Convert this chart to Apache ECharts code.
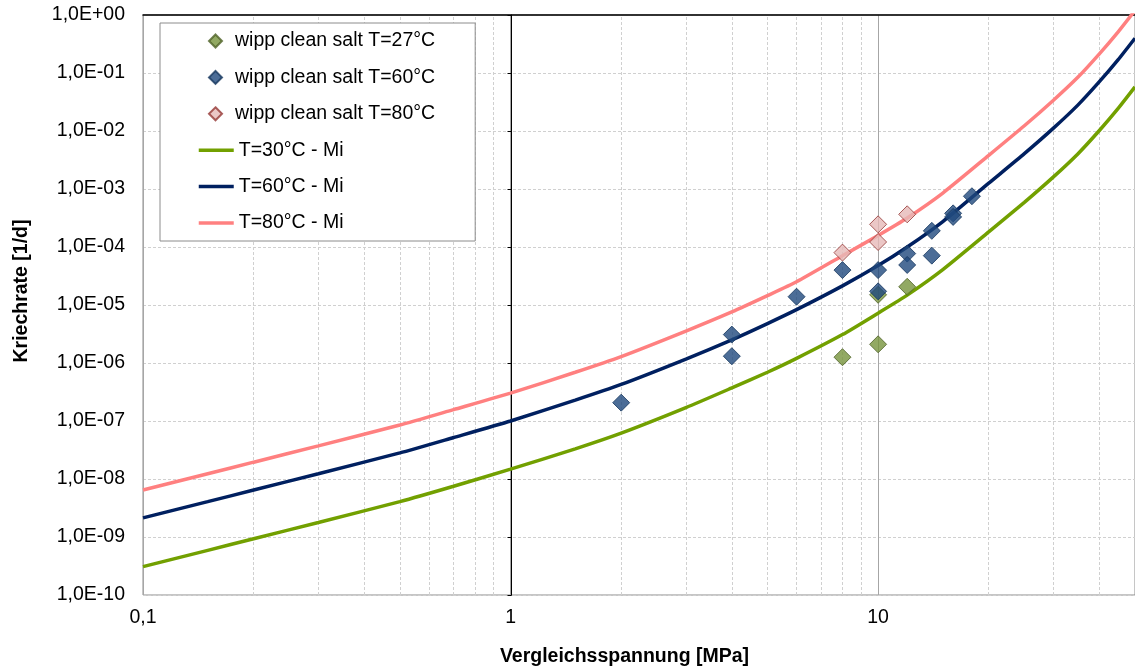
<!DOCTYPE html>
<html>
<head>
<meta charset="utf-8">
<script src="https://cdn.jsdelivr.net/npm/echarts@6/dist/echarts.min.js"></script>
<style>
html,body{margin:0;padding:0;background:#fff;}
#chart{width:1135px;height:672px;}
</style>
</head>
<body>
<div id="chart"></div>
<script>
// ---- data ----
const stressGrid = [0.1, 0.15, 0.2, 0.3, 0.5, 0.7, 1, 1.5, 2, 3, 4, 5, 6, 8, 10, 12, 15, 20, 25, 30, 35, 40, 45, 50];
const rateMi30 = [3.09e-10, 5.89e-10, 9.33e-10, 1.78e-9, 4.07e-9, 7.50e-9, 1.48e-8, 3.31e-8, 6.17e-8, 1.70e-7, 3.72e-7, 6.92e-7, 1.20e-6, 3.09e-6, 7.24e-6, 1.48e-5, 4.07e-5, 1.82e-4, 5.89e-4, 1.62e-3, 4.07e-3, 1.02e-2, 2.45e-2, 5.75e-2];
const rateMi60 = [2.14e-9, 4.07e-9, 6.46e-9, 1.23e-8, 2.82e-8, 5.19e-8, 1.00e-7, 2.29e-7, 4.27e-7, 1.17e-6, 2.51e-6, 4.79e-6, 8.32e-6, 2.14e-5, 4.79e-5, 1.00e-4, 2.75e-4, 1.26e-3, 4.07e-3, 1.12e-2, 2.82e-2, 7.08e-2, 0.170, 0.398];
const rateMi80 = [6.46e-9, 1.23e-8, 1.95e-8, 3.72e-8, 8.51e-8, 1.57e-7, 3.02e-7, 6.92e-7, 1.29e-6, 3.55e-6, 7.59e-6, 1.45e-5, 2.51e-5, 7.08e-5, 1.58e-4, 3.16e-4, 8.51e-4, 3.80e-3, 1.23e-2, 3.39e-2, 8.51e-2, 0.214, 0.513, 1.20];

const wipp27 = [[8, 1.26e-6], [10, 2.1e-6], [10, 1.5e-5], [12, 2.06e-5]];
const wipp60 = [[2, 2.07e-7], [4, 3.09e-6], [4, 1.31e-6], [6, 1.39e-5], [8, 4.0e-5], [10, 4.0e-5], [10, 1.72e-5],
                [12, 7.7e-5], [12, 4.9e-5], [14, 1.9e-4], [14, 7.1e-5], [16, 3.8e-4], [16, 3.3e-4], [18, 7.5e-4]];
const wipp80 = [[8, 8.0e-5], [10, 2.46e-4], [10, 1.22e-4], [12, 3.66e-4]];

const minorStressTicks = [0.2, 0.3, 0.4, 0.5, 0.6, 0.7, 0.8, 0.9, 2, 3, 4, 5, 6, 7, 8, 9, 20, 30, 40];
const xMin = 0.1, xMax = 50, yMin = 1e-10, yMax = 1;

const names = {
  s27: 'wipp clean salt T=27°C',
  s60: 'wipp clean salt T=60°C',
  s80: 'wipp clean salt T=80°C',
  l30: 'T=30°C - Mi',
  l60: 'T=60°C - Mi',
  l80: 'T=80°C - Mi'
};

// ---- chart ----
const FONT = '"Liberation Sans", Arial, sans-serif';
const FS = 19.5;
const chart = echarts.init(document.getElementById('chart'), null, {renderer: 'canvas'});

function pair(xs, ys) { return xs.map((x, i) => [x, ys[i]]); }
function yFmt(v) {
  const e = Math.round(Math.log10(v));
  return '1,0E' + (e < 0 ? '-' : '+') + String(Math.abs(e)).padStart(2, '0');
}
function xFmt(v) {
  const l = Math.log10(v);
  if (Math.abs(l - Math.round(l)) > 1e-6) return '';
  return String(+v.toPrecision(6)).replace('.', ',');
}

const lineBase = {
  type: 'line', symbol: 'none', showSymbol: false, smooth: 0.2, clip: true,
  xAxisIndex: 0, yAxisIndex: 0, z: 3
};
const scatterBase = {
  type: 'scatter', symbol: 'diamond', symbolSize: 17, clip: true,
  xAxisIndex: 0, yAxisIndex: 0, z: 4
};

const lineLegendItem = (n, c) => ({name: n, itemStyle: {opacity: 0, color: c}});
const dotLegendItem = (n) => ({name: n, icon: 'diamond'});

const option = {
  animation: false,
  backgroundColor: '#ffffff',
  textStyle: {fontFamily: FONT},
  grid: {
    left: 143, top: 15, width: 995, height: 582,
    show: true, borderColor: '#8c8c8c', borderWidth: 1, backgroundColor: 'transparent'
  },
  legend: [{
    // scatter entries + the frame of the whole legend box
    orient: 'vertical', left: 160, top: 23, z: 10,
    padding: [8, 40, 117.2, 48],
    itemWidth: 13, itemHeight: 13, itemGap: 16.4,
    backgroundColor: '#ffffff', borderColor: '#8c8c8c', borderWidth: 1,
    textStyle: {fontFamily: FONT, fontSize: FS, color: '#000', lineHeight: 20, padding: [0, 0, 0, 8]},
    data: [dotLegendItem(names.s27), dotLegendItem(names.s60), dotLegendItem(names.s80)]
  }, {
    // line entries
    orient: 'vertical', left: 197, top: 140.2, z: 11,
    padding: 0,
    itemWidth: 35, itemHeight: 13, itemGap: 16.4,
    textStyle: {fontFamily: FONT, fontSize: FS, color: '#000', lineHeight: 20},
    lineStyle: {width: 3.5},
    data: [lineLegendItem(names.l30, '#72A000'), lineLegendItem(names.l60, '#002060'), lineLegendItem(names.l80, '#FF8080')]
  }],
  xAxis: [{
    type: 'log', logBase: 10, min: xMin, max: xMax,
    position: 'bottom',
    axisLine: {show: false, onZero: false},
    axisTick: {show: false},
    axisLabel: {formatter: xFmt, fontFamily: FONT, fontSize: FS, color: '#000', margin: 13, showMaxLabel: false},
    splitLine: {show: true, lineStyle: {color: '#a6a6a6', width: 1, type: 'solid'}},
    name: 'Vergleichsspannung [MPa]', nameLocation: 'middle', nameGap: 52,
    nameTextStyle: {fontFamily: FONT, fontSize: FS, fontWeight: 'bold', color: '#000', padding: [0, 29, 0, 0]}
  }, {
    type: 'log', logBase: 10, min: xMin, max: xMax,
    position: 'top',
    axisLine: {show: true, onZero: false, lineStyle: {color: '#000', width: 1.5}},
    axisTick: {show: false}, axisLabel: {show: false}, splitLine: {show: false}
  }],
  yAxis: [{
    type: 'log', logBase: 10, min: yMin, max: yMax, interval: 1,
    position: 'left',
    axisLine: {show: false, onZero: false},
    axisTick: {show: false},
    axisLabel: {formatter: yFmt, fontFamily: FONT, fontSize: FS, color: '#000', margin: 18},
    splitLine: {show: true, lineStyle: {color: '#d0d0d0', width: 1, type: [3, 2]}},
    name: 'Kriechrate [1/d]', nameLocation: 'middle', nameGap: 111,
    nameTextStyle: {fontFamily: FONT, fontSize: FS, fontWeight: 'bold', color: '#000', padding: [0, 0, 0, 28]}
  }, {
    type: 'log', logBase: 10, min: yMin, max: yMax, interval: 1,
    position: 'left', offset: -368.5,
    axisLine: {show: true, onZero: false, lineStyle: {color: '#000', width: 1}},
    axisTick: {show: true, length: 4, inside: false, lineStyle: {color: '#000'}},
    axisLabel: {show: false}, splitLine: {show: false}
  }],
  series: [
    Object.assign({}, lineBase, {
      name: names.l30, data: pair(stressGrid, rateMi30),
      lineStyle: {color: '#72A000', width: 3.5}, itemStyle: {color: '#72A000'},
      markLine: {
        silent: true, symbol: ['none', 'none'], z: 1, animation: false,
        label: {show: false},
        lineStyle: {color: '#d0d0d0', width: 1, type: [3, 2]},
        emphasis: {disabled: true},
        data: minorStressTicks.map(v => ({xAxis: v}))
      }
    }),
    Object.assign({}, lineBase, {
      name: names.l60, data: pair(stressGrid, rateMi60),
      lineStyle: {color: '#002060', width: 3.5}, itemStyle: {color: '#002060'}
    }),
    Object.assign({}, lineBase, {
      name: names.l80, data: pair(stressGrid, rateMi80),
      lineStyle: {color: '#FF8080', width: 3.5}, itemStyle: {color: '#FF8080'}
    }),
    Object.assign({}, scatterBase, {
      name: names.s27, data: wipp27,
      itemStyle: {color: '#77933C', borderColor: '#4F6228', borderWidth: 1}
    }),
    Object.assign({}, scatterBase, {
      name: names.s60, data: wipp60,
      itemStyle: {color: '#1F497D', borderColor: '#17375E', borderWidth: 1}
    }),
    Object.assign({}, scatterBase, {
      name: names.s80, data: wipp80,
      itemStyle: {color: '#E6B9B8', borderColor: '#953735', borderWidth: 1}
    })
  ]
};
chart.setOption(option);
</script>
</body>
</html>
